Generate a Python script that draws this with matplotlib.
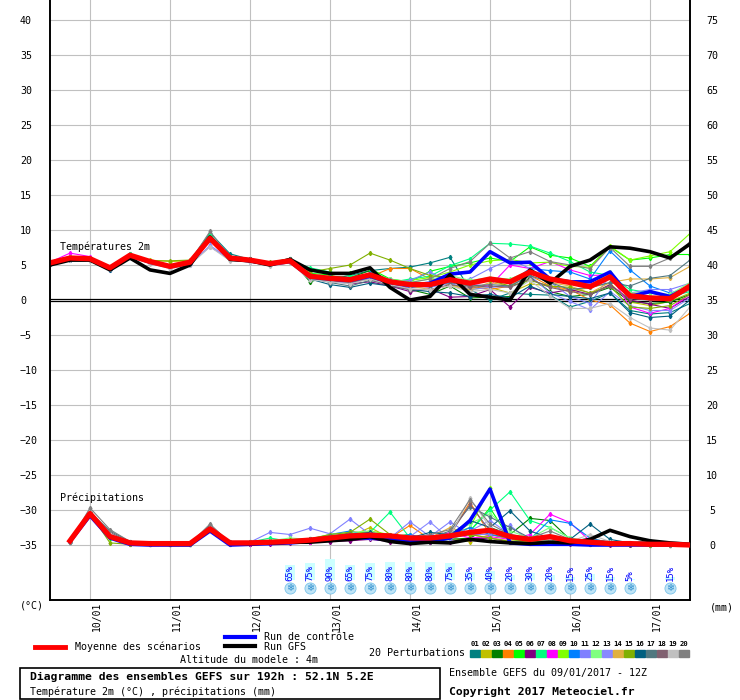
import matplotlib
matplotlib.use("Agg")
import matplotlib.pyplot as plt
from matplotlib.patches import Rectangle
from matplotlib.lines import Line2D

# forecast hours (run 09/01/2017 12Z)
hours = list(range(0, 193, 6))
rain_hours = list(range(6, 193, 6))

day_labels = ['10/01', '11/01', '12/01', '13/01', '14/01', '15/01', '16/01', '17/01']
day_hours = [12, 36, 60, 84, 108, 132, 156, 180]

# ---- temperatures 2m (degC)
temp_mean = [5.3, 6.0, 5.9, 4.6, 6.4, 5.5, 4.8, 5.4, 8.8, 6.0, 5.7, 5.2, 5.6,
             3.4, 3.1, 2.9, 3.6, 2.6, 2.2, 2.2, 2.9, 2.4, 3.0, 2.6, 4.0, 3.0,
             2.5, 1.9, 3.3, 0.6, 0.3, 0.2, 2.0]
temp_gfs = [5.0, 5.7, 5.7, 4.3, 6.0, 4.3, 3.8, 5.0, 9.0, 5.8, 5.6, 5.0, 5.8,
            4.3, 3.8, 3.8, 4.6, 1.8, 0.0, 0.5, 3.6, 0.8, 0.4, 0.0, 4.3, 2.4,
            4.8, 5.7, 7.6, 7.4, 6.9, 6.0, 8.0]
temp_ctrl = [5.3, 6.0, 5.9, 4.5, 6.4, 5.4, 4.8, 5.3, 8.8, 5.9, 5.6, 5.1, 5.5,
             3.3, 3.0, 2.8, 3.4, 2.5, 2.1, 2.4, 3.7, 4.0, 6.9, 5.3, 5.4, 3.0,
             2.6, 2.6, 4.0, 0.5, 1.2, 0.5, 1.9]

temp_p01 = [5.2, 5.8, 5.8, 4.4, 6.6, 5.4, 4.9, 5.6, 9.6, 6.6, 5.8, 5.2, 5.8,
            2.8, 3.0, 3.5, 4.2, 4.5, 4.7, 5.3, 6.1, 1.5, 0.0, 1.0, 0.8, 0.7,
            -1.0, -0.2, 1.0, -1.5, -2.0, -1.8, -0.5]
temp_p02 = [5.4, 6.1, 6.0, 4.5, 6.3, 5.7, 5.5, 5.6, 8.6, 5.9, 5.6, 5.3, 5.7,
            3.0, 3.5, 3.0, 3.5, 2.8, 2.2, 2.5, 2.2, 1.5, 1.8, 1.0, 2.3, 2.0,
            1.2, 1.8, 2.4, -0.3, -0.8, -0.2, 1.0]
temp_p03 = [5.3, 5.9, 5.9, 4.7, 6.5, 5.5, 4.8, 5.4, 9.0, 6.1, 5.8, 5.1, 5.9,
            2.6, 3.4, 3.2, 4.2, 2.8, 1.5, 0.8, 2.0, 0.3, 0.4, 0.5, 3.3, 1.2,
            0.5, 0.8, 1.8, -0.2, -0.5, -0.3, 0.8]
temp_p04 = [5.5, 6.1, 6.0, 4.6, 6.3, 5.6, 4.9, 5.3, 8.7, 6.0, 5.6, 5.2, 5.4,
            3.5, 2.8, 2.5, 3.3, 4.5, 4.5, 3.0, 2.5, 2.0, 1.5, 2.0, 3.5, 2.0,
            1.5, 0.0, -0.7, -3.3, -4.5, -3.8, -1.9]
temp_p05 = [5.4, 6.0, 5.9, 4.6, 6.5, 5.5, 4.9, 5.6, 9.2, 6.1, 5.6, 5.2, 5.7,
            3.8, 3.6, 3.8, 4.5, 3.0, 2.6, 4.1, 4.8, 5.3, 6.0, 5.5, 7.6, 6.4,
            6.0, 4.8, 7.6, 5.7, 6.0, 6.5, 6.5]
temp_p06 = [5.2, 5.9, 5.8, 4.5, 6.4, 5.4, 4.7, 5.3, 8.8, 5.9, 5.6, 5.1, 5.5,
            3.2, 2.9, 2.3, 2.6, 2.0, 1.2, 1.6, 0.4, 0.5, 1.5, -1.0, 1.8, 1.0,
            1.5, 0.8, 2.2, 0.0, -0.6, -1.2, 0.5]
temp_p07 = [5.3, 6.0, 6.0, 4.6, 6.6, 5.5, 4.8, 5.5, 9.4, 6.0, 5.7, 5.2, 5.6,
            4.6, 4.0, 3.5, 3.2, 2.5, 3.0, 3.4, 4.9, 5.9, 8.1, 8.0, 7.7, 6.7,
            5.5, 4.0, 3.5, 1.5, 1.0, 0.5, 1.2]
temp_p08 = [5.4, 6.7, 6.2, 4.4, 6.3, 5.3, 4.8, 5.4, 8.7, 6.0, 5.7, 5.1, 5.6,
            3.4, 3.0, 2.7, 3.3, 2.0, 1.8, 2.0, 2.5, 2.2, 2.0, 5.0, 4.5, 5.5,
            4.3, 3.5, 3.6, -1.0, -1.9, -1.2, 0.8]
temp_p09 = [5.3, 6.1, 5.9, 4.5, 6.5, 5.6, 5.0, 5.5, 8.9, 6.0, 5.7, 5.2, 5.6,
            3.0, 2.8, 2.5, 3.0, 2.6, 2.8, 3.2, 4.0, 5.0, 5.6, 5.8, 5.3, 5.4,
            4.8, 4.7, 7.7, 5.7, 6.3, 6.9, 9.5]
temp_p10 = [5.2, 5.8, 5.8, 4.5, 6.4, 5.4, 4.8, 5.3, 8.6, 5.9, 5.6, 5.1, 5.5,
            3.6, 3.3, 3.0, 3.8, 2.3, 1.8, 2.0, 2.8, 2.2, 3.0, 2.5, 4.5, 4.2,
            4.0, 3.0, 7.0, 4.3, 2.0, 1.0, 1.8]
temp_p11 = [5.1, 5.7, 5.7, 4.3, 6.2, 5.3, 4.6, 5.2, 7.6, 5.8, 5.5, 5.0, 5.4,
            3.0, 2.6, 2.4, 3.2, 2.5, 2.8, 4.0, 2.5, 3.0, 4.5, 5.8, 4.5, 2.6,
            0.5, -0.5, 3.5, 1.0, 1.5, 1.5, 2.4]
temp_p12 = [5.4, 6.0, 5.9, 4.7, 6.4, 5.6, 4.9, 5.5, 9.0, 6.1, 5.7, 5.2, 5.7,
            3.7, 3.2, 3.0, 3.6, 3.0, 2.5, 3.0, 3.5, 2.8, 3.2, 3.0, 4.2, 3.0,
            2.5, 2.0, 4.0, 1.0, 1.0, 0.8, 2.5]
temp_p13 = [5.2, 5.8, 5.8, 4.5, 6.3, 5.4, 4.6, 5.0, 7.8, 5.8, 5.6, 5.1, 5.4,
            3.1, 2.9, 2.6, 3.4, 2.9, 2.1, 1.8, 2.4, 1.5, 1.8, 2.0, 3.5, 1.0,
            -0.2, -1.4, 1.2, -0.8, -1.5, -1.5, 0.3]
temp_p14 = [5.3, 6.0, 5.9, 4.6, 6.4, 5.5, 4.9, 5.5, 8.8, 6.0, 5.6, 5.2, 5.6,
            3.3, 3.0, 2.8, 3.4, 2.2, 2.0, 1.5, 2.0, 1.5, 2.5, 2.0, 4.0, 2.5,
            2.0, 1.0, 2.5, 3.0, 3.0, 3.2, 4.8]
temp_p15 = [5.4, 6.0, 5.9, 4.6, 6.3, 5.6, 5.6, 5.7, 8.8, 6.0, 5.6, 5.4, 5.9,
            4.0, 4.5, 5.0, 6.7, 5.7, 4.5, 3.5, 3.2, 2.5, 2.8, 2.0, 2.8, 2.0,
            1.8, 1.0, 2.0, -1.0, -1.2, -0.8, 0.8]
temp_p16 = [5.1, 5.7, 5.7, 4.3, 6.2, 5.3, 4.7, 5.3, 8.9, 6.2, 5.8, 5.2, 5.8,
            3.0, 2.2, 1.8, 2.4, 2.0, 1.5, 1.2, 1.0, 0.5, 0.8, 0.3, 2.0, 0.8,
            0.5, 0.2, 1.0, -1.8, -2.5, -2.3, 0.0]
temp_p17 = [5.2, 5.9, 5.8, 4.5, 6.4, 5.5, 4.8, 5.3, 8.7, 5.9, 5.7, 5.1, 5.6,
            3.2, 2.5, 2.0, 2.8, 2.2, 2.0, 2.0, 2.5, 2.0, 2.2, 2.0, 3.5, 2.5,
            1.5, 1.8, 2.5, 2.0, 3.1, 3.5, 5.7]
temp_p18 = [5.3, 5.9, 5.9, 4.6, 6.4, 5.5, 4.8, 5.4, 8.8, 6.0, 5.7, 5.2, 5.6,
            3.3, 2.8, 2.5, 3.0, 2.0, 1.5, 1.5, 2.2, 1.8, 2.0, 1.8, 3.0, 1.8,
            1.2, 0.8, 2.0, 0.2, 0.0, 0.0, 1.5]
temp_p19 = [5.1, 5.7, 5.6, 4.4, 6.1, 5.2, 4.5, 5.0, 7.6, 5.6, 5.5, 4.9, 5.3,
            2.9, 2.6, 2.3, 3.0, 2.2, 1.6, 1.5, 2.0, 1.2, 1.5, 1.0, 2.8, 0.6,
            -1.2, -1.2, -0.5, -2.5, -4.0, -4.3, -1.0]
temp_p20 = [5.3, 6.0, 6.0, 4.6, 6.5, 5.6, 4.9, 5.5, 9.8, 6.1, 5.8, 5.3, 5.8,
            3.3, 3.0, 2.8, 3.5, 2.8, 2.5, 3.0, 4.5, 5.5, 8.1, 6.0, 6.9, 5.5,
            5.0, 4.5, 7.5, 4.8, 4.8, 6.0, 8.3]

# ---- precipitation (mm / 6h), from +6h
rain_mean = [0.6, 4.5, 1.2, 0.3, 0.2, 0.2, 0.2, 2.3, 0.3, 0.3, 0.4, 0.5, 0.7, 1.0,
             1.3, 1.4, 1.3, 1.0, 1.0, 1.3, 1.8, 2.1, 1.2, 0.8, 1.2, 0.6, 0.4, 0.2,
             0.2, 0.1, 0.1, 0.0]
rain_gfs = [0.6, 4.5, 1.2, 0.3, 0.2, 0.1, 0.1, 2.2, 0.3, 0.2, 0.3, 0.4, 0.4, 0.6,
            0.8, 1.2, 0.5, 0.2, 0.4, 0.3, 0.8, 0.5, 0.3, 0.2, 0.4, 0.3, 0.8, 2.1,
            1.2, 0.6, 0.3, 0.1]
rain_ctrl = [0.5, 4.2, 1.0, 0.1, 0.0, 0.0, 0.0, 2.0, 0.0, 0.1, 0.2, 0.3, 0.5, 0.8,
             1.0, 1.0, 0.8, 0.6, 0.5, 1.0, 3.5, 8.0, 0.3, 0.1, 0.1, 0.1, 0.0, 0.0,
             0.0, 0.0, 0.0, 0.0]

rain_p01 = [0.5, 4.6, 1.5, 0.3, 0.2, 0.1, 0.2, 2.6, 0.3, 0.2, 0.4, 0.5, 0.8, 1.2,
            0.8, 1.5, 1.0, 0.8, 0.5, 1.0, 1.5, 2.0, 1.0, 0.5, 1.0, 0.5, 0.3, 0.2,
            0.1, 0.1, 0.0, 0.0]
rain_p02 = [0.6, 4.4, 1.0, 0.2, 0.2, 0.1, 0.1, 2.2, 0.2, 0.3, 0.3, 0.4, 0.6, 0.9,
            1.2, 2.5, 1.0, 0.6, 0.8, 1.0, 0.5, 1.5, 0.8, 0.3, 0.5, 0.4, 0.2, 0.1,
            0.1, 0.0, 0.0, 0.0]
rain_p03 = [0.5, 4.5, 1.2, 0.4, 0.1, 0.2, 0.2, 2.4, 0.2, 0.2, 0.3, 0.6, 0.5, 1.0,
            1.8, 1.0, 0.8, 1.2, 0.5, 0.8, 1.0, 2.5, 1.5, 3.8, 3.5, 0.8, 0.4, 0.2,
            0.1, 0.0, 0.0, 0.0]
rain_p04 = [0.6, 4.3, 1.3, 0.2, 0.2, 0.1, 0.2, 2.3, 0.3, 0.3, 0.4, 0.5, 0.6, 1.0,
            2.0, 1.5, 1.0, 2.8, 0.8, 1.5, 6.1, 1.5, 1.0, 0.5, 0.8, 0.3, 0.2, 0.1,
            0.1, 0.1, 0.0, 0.0]
rain_p05 = [0.5, 4.5, 1.0, 0.3, 0.2, 0.2, 0.1, 2.5, 0.3, 0.3, 0.5, 0.5, 0.8, 1.3,
            1.5, 1.0, 1.2, 1.5, 0.6, 1.0, 2.0, 5.3, 0.8, 0.5, 0.7, 0.3, 0.1, 0.1,
            0.0, 0.0, 0.0, 0.0]
rain_p06 = [0.5, 4.4, 1.1, 0.2, 0.1, 0.1, 0.1, 2.1, 0.2, 0.1, 0.2, 0.3, 0.4, 0.5,
            0.6, 0.8, 0.5, 0.3, 0.4, 0.5, 0.8, 1.0, 0.4, 0.3, 0.5, 0.2, 0.1, 0.0,
            0.0, 0.0, 0.0, 0.0]
rain_p07 = [0.6, 4.7, 1.4, 0.3, 0.2, 0.2, 0.2, 2.4, 0.3, 0.4, 1.0, 0.5, 0.6, 1.0,
            1.5, 1.8, 4.7, 1.0, 0.8, 1.2, 2.0, 5.0, 7.6, 3.5, 2.5, 1.0, 0.3, 0.2,
            0.1, 0.0, 0.0, 0.0]
rain_p08 = [0.5, 4.5, 1.2, 0.3, 0.2, 0.1, 0.2, 2.3, 0.2, 0.2, 0.3, 0.4, 0.5, 0.8,
            1.0, 1.2, 1.5, 1.0, 0.8, 1.8, 1.0, 1.2, 0.8, 1.5, 4.4, 3.2, 0.6, 0.3,
            0.1, 0.0, 0.0, 0.0]
rain_p09 = [0.6, 4.6, 1.3, 0.3, 0.2, 0.2, 0.2, 2.5, 0.3, 0.3, 0.4, 0.6, 0.7, 1.2,
            1.5, 2.0, 1.5, 0.8, 1.0, 1.5, 2.5, 8.1, 1.0, 0.5, 0.5, 0.3, 0.2, 0.1,
            0.1, 0.0, 0.0, 0.0]
rain_p10 = [0.5, 4.4, 1.3, 0.2, 0.2, 0.1, 0.1, 2.4, 0.3, 0.3, 0.4, 0.5, 0.8, 1.5,
            2.0, 1.2, 1.0, 1.5, 0.8, 1.2, 2.5, 1.5, 1.0, 0.8, 3.6, 3.1, 1.0, 0.3,
            0.1, 0.0, 0.0, 0.0]
rain_p11 = [0.5, 4.2, 1.6, 0.4, 0.2, 0.2, 0.2, 2.6, 0.3, 0.4, 1.8, 1.5, 2.4, 1.6,
            3.7, 1.5, 1.0, 3.3, 1.2, 3.3, 1.5, 1.5, 2.8, 0.5, 0.6, 0.3, 0.2, 0.1,
            0.1, 0.0, 0.0, 0.0]
rain_p12 = [0.6, 4.6, 1.2, 0.3, 0.2, 0.2, 0.2, 2.5, 0.3, 0.4, 0.6, 1.0, 0.8, 1.5,
            1.8, 2.0, 1.2, 1.0, 0.8, 1.5, 3.0, 4.5, 2.0, 1.0, 2.5, 1.0, 0.5, 0.2,
            0.1, 0.0, 0.0, 0.0]
rain_p13 = [0.5, 4.3, 1.4, 0.3, 0.2, 0.1, 0.2, 2.5, 0.2, 0.3, 0.4, 0.6, 0.7, 1.0,
            1.2, 1.0, 1.5, 1.2, 3.3, 0.8, 2.0, 3.5, 1.5, 0.8, 1.0, 0.5, 0.3, 0.1,
            0.1, 0.0, 0.0, 0.0]
rain_p14 = [0.6, 4.5, 1.1, 0.2, 0.1, 0.2, 0.1, 2.3, 0.2, 0.3, 0.4, 0.4, 0.6, 1.0,
            1.3, 1.2, 1.0, 0.8, 1.0, 2.5, 1.5, 1.0, 0.6, 0.4, 0.6, 0.3, 0.5, 0.2,
            0.1, 0.1, 0.1, 0.0]
rain_p15 = [0.5, 4.5, 0.3, 0.1, 0.2, 0.1, 0.1, 2.3, 0.2, 0.3, 0.5, 0.7, 0.9, 1.5,
            1.8, 3.7, 1.5, 1.0, 0.8, 1.2, 1.5, 1.0, 0.5, 0.4, 0.5, 0.3, 0.2, 0.1,
            0.1, 0.0, 0.0, 0.0]
rain_p16 = [0.5, 4.5, 1.5, 0.4, 0.2, 0.2, 0.2, 2.7, 0.4, 0.3, 0.4, 0.6, 0.8, 1.2,
            1.5, 1.8, 1.2, 1.0, 1.8, 1.5, 3.5, 2.5, 4.9, 2.0, 1.0, 0.8, 3.0, 0.8,
            0.3, 0.5, 0.2, 0.0]
rain_p17 = [0.5, 4.7, 2.0, 0.5, 0.3, 0.2, 0.2, 2.8, 0.4, 0.4, 0.5, 0.6, 0.8, 1.3,
            1.6, 1.5, 1.3, 1.0, 1.0, 2.0, 5.5, 4.0, 2.5, 1.0, 0.8, 0.5, 0.8, 0.5,
            0.3, 0.6, 0.2, 0.0]
rain_p18 = [0.5, 4.6, 1.8, 0.4, 0.3, 0.2, 0.2, 2.5, 0.3, 0.3, 0.5, 0.6, 0.7, 1.1,
            1.4, 1.3, 1.1, 0.9, 1.0, 1.5, 5.8, 2.0, 1.0, 0.7, 0.8, 0.4, 0.3, 0.2,
            0.1, 0.1, 0.0, 0.0]
rain_p19 = [0.5, 4.8, 1.6, 0.3, 0.2, 0.2, 0.2, 2.6, 0.3, 0.3, 0.4, 0.5, 0.7, 1.0,
            1.2, 1.2, 1.0, 0.8, 0.9, 1.3, 6.7, 2.5, 1.0, 0.6, 0.8, 0.5, 1.5, 0.5,
            0.2, 0.1, 0.0, 0.0]
rain_p20 = [0.5, 5.3, 2.2, 0.5, 0.3, 0.2, 0.2, 3.0, 0.3, 0.4, 0.5, 0.6, 0.8, 1.2,
            1.5, 1.6, 1.2, 1.0, 1.5, 2.2, 6.5, 3.0, 1.5, 1.0, 2.0, 0.8, 0.5, 0.3,
            0.2, 0.1, 0.0, 0.0]

pert_colors = ['#008080', '#c0c000', '#008000', '#ff8000', '#00ff00', '#800080',
               '#00ff80', '#ff00ff', '#80ff00', '#0080ff', '#8080ff', '#80ff80',
               '#8888ff', '#e0b040', '#80b000', '#006080', '#507880', '#806070',
               '#c0c0c0', '#808080']
pert_temps = [temp_p01, temp_p02, temp_p03, temp_p04, temp_p05, temp_p06, temp_p07,
              temp_p08, temp_p09, temp_p10, temp_p11, temp_p12, temp_p13, temp_p14,
              temp_p15, temp_p16, temp_p17, temp_p18, temp_p19, temp_p20]
pert_rains = [rain_p01, rain_p02, rain_p03, rain_p04, rain_p05, rain_p06, rain_p07,
              rain_p08, rain_p09, rain_p10, rain_p11, rain_p12, rain_p13, rain_p14,
              rain_p15, rain_p16, rain_p17, rain_p18, rain_p19, rain_p20]

# probability of snow (%)
snow_hours = [72, 78, 84, 90, 96, 102, 108, 114, 120, 126, 132, 138, 144, 150,
              156, 162, 168, 174, 186]
snow_pct = [65, 75, 90, 65, 75, 80, 80, 80, 75, 35, 40, 20, 30, 20, 15, 25, 15, 5, 15]

W, H = 740, 700
MONO = 'DejaVu Sans Mono'
FS = 7.2


def fx(x):
    return x / W


def fy(y):
    return 1 - y / H


fig = plt.figure(figsize=(7.4, 7.0), dpi=100)
ax = fig.add_axes([fx(50), fy(600), 640 / W, 600 / H])
ylim = 300 / 7.0
ax.set_xlim(0, 192)
ax.set_ylim(-ylim, ylim)

# grid
for v in range(-35, 45, 5):
    if v != 0:
        ax.axhline(v, color='#c0c0c0', lw=0.8, zorder=0)
for d in day_hours:
    ax.axvline(d, color='#c0c0c0', lw=0.8, zorder=0)
ax.axhline(0.2, color='black', lw=0.9, zorder=1)
ax.axhline(-0.2, color='black', lw=0.9, zorder=1)

# precipitation on right axis (mm)
ax2 = ax.twinx()
ax2.set_ylim(-ylim + 35, ylim + 35)

for i in range(20):
    ax.plot(hours, pert_temps[i], color=pert_colors[i], lw=0.8, marker='d',
            ms=2.2, zorder=2)
    ax2.plot(rain_hours, pert_rains[i], color=pert_colors[i], lw=0.8, marker='d',
             ms=2.2, zorder=2)

ax.plot(hours, temp_ctrl, color='#0000ff', lw=2.6, zorder=3)
ax.plot(hours, temp_gfs, color='black', lw=2.6, zorder=3)
ax.plot(hours, temp_mean, color='#ff0000', lw=3.8, zorder=4)
ax2.plot(rain_hours, rain_ctrl, color='#0000ff', lw=2.6, zorder=3)
ax2.plot(rain_hours, rain_gfs, color='black', lw=2.6, zorder=3)
ax2.plot(rain_hours, rain_mean, color='#ff0000', lw=3.8, zorder=4)

# snow probability boxes and icons
for h, p in zip(snow_hours, snow_pct):
    ax.bar(h, p * 0.23 / 7.0, bottom=-40, width=3.0, color='#ccffff', zorder=1)
    ax.text(h, -40.1, '%d%%' % p, rotation=90, ha='center', va='bottom',
            fontsize=6.5, color='#0000ff', family=MONO, zorder=2)
    ax.plot(h, -41.2, 'o', ms=8, color='#bfe4f6', mec='#7cc4ea', mew=0.6, zorder=2)
    ax.text(h, -41.2, '\u2744', ha='center', va='center', fontsize=7,
            color='#2f8fd0', family='DejaVu Sans', zorder=3)

ax.text(3, 7.6, 'Températures 2m', fontsize=FS, family=MONO, va='center')
ax.text(3, -28.3, 'Précipitations', fontsize=FS, family=MONO, va='center')

# axes styling
for a in (ax, ax2):
    a.spines['top'].set_visible(False)
    for s in ('left', 'right', 'bottom'):
        a.spines[s].set_linewidth(1.2)
ax.set_xticks([])
ax.set_yticks(list(range(-35, 45, 5)))
ax.tick_params(axis='y', length=0, pad=21.6, labelsize=FS)
for lab in ax.get_yticklabels():
    lab.set_ha('left')
    lab.set_family(MONO)
ax2.set_yticks(list(range(0, 80, 5)))
ax2.tick_params(axis='y', length=0, pad=16, labelsize=FS)
for lab in ax2.get_yticklabels():
    lab.set_ha('center')
    lab.set_family(MONO)

for d, lab in zip(day_hours, day_labels):
    fig.text(fx(50 + (d + 2.1) * 10 / 3), fy(602), lab, rotation=90, ha='center',
             va='top', fontsize=7.0, family=MONO)

fig.text(fx(20), fy(606), '(°C)', fontsize=FS, family=MONO, va='center')
fig.text(fx(710), fy(607), '(mm)', fontsize=FS, family=MONO, va='center')

# legend
fig.add_artist(Line2D([fx(35), fx(65)], [fy(647), fy(647)], color='#ff0000', lw=3.5))
fig.text(fx(75), fy(647), 'Moyenne des scénarios', fontsize=FS, family=MONO, va='center')
fig.add_artist(Line2D([fx(225), fx(255)], [fy(637), fy(637)], color='#0000ff', lw=3))
fig.text(fx(264), fy(637), 'Run de contrôle', fontsize=FS, family=MONO, va='center')
fig.add_artist(Line2D([fx(225), fx(255)], [fy(646), fy(646)], color='black', lw=3))
fig.text(fx(264), fy(647), 'Run GFS', fontsize=FS, family=MONO, va='center')
fig.text(fx(180), fy(660), 'Altitude du modele : 4m', fontsize=FS, family=MONO, va='center')
fig.text(fx(369), fy(653), '20 Perturbations', fontsize=FS, family=MONO, va='center')
for i, c in enumerate(pert_colors):
    x0 = 470 + i * 11
    fig.add_artist(Rectangle((fx(x0), fy(657)), 10 / W, 7 / H, color=c,
                             transform=fig.transFigure))
    fig.text(fx(x0 + 5), fy(644), '%02d' % (i + 1), fontsize=5.2, family=MONO,
             weight='bold', ha='center', va='center')

# title box
fig.add_artist(Rectangle((fx(20), fy(699)), 420 / W, 31 / H, fill=False,
                         ec='black', lw=1.2, transform=fig.transFigure))
fig.text(fx(30), fy(677), 'Diagramme des ensembles GEFS sur 192h : 52.1N 5.2E',
         fontsize=8.2, family=MONO, weight='bold', va='center')
fig.text(fx(30), fy(692), 'Température 2m (°C) , précipitations (mm)',
         fontsize=FS, family=MONO, va='center')
fig.text(fx(449), fy(673), 'Ensemble GEFS du 09/01/2017 - 12Z', fontsize=FS,
         family=MONO, va='center')
fig.text(fx(449), fy(692), 'Copyright 2017 Meteociel.fr', fontsize=8.2,
         family=MONO, weight='bold', va='center')

fig.savefig('out.png', dpi=100)
